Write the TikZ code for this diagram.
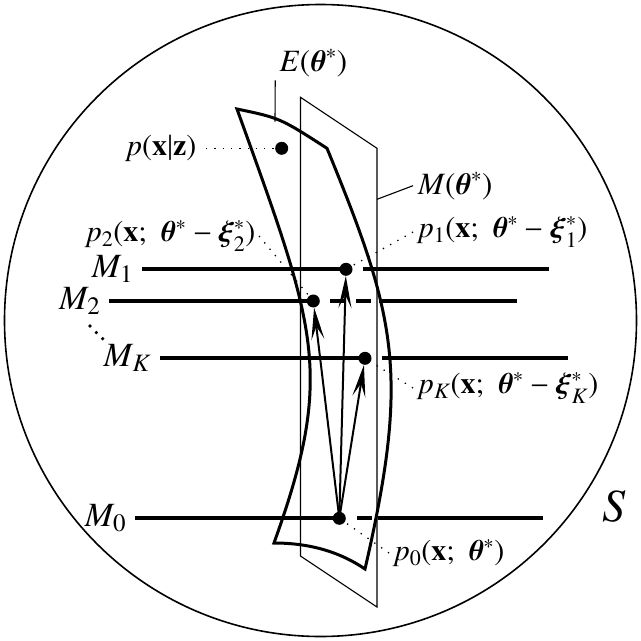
\documentclass[tikz,border=0pt]{standalone}
\usepackage{amsmath}
\usepackage{txfonts}
\usetikzlibrary{arrows.meta}
\DeclareMathSizes{30}{30}{22}{16}
\DeclareMathSizes{31}{31}{23}{17}
\DeclareMathSizes{34}{34}{25}{18}
\tikzset{mline/.style={line width=3.7pt}, sheet/.style={line width=1.1pt}, surf/.style={line width=3pt, line join=miter}, blob/.style={circle, fill, inner sep=0pt, minimum size=13pt}, lead/.style={line width=1.3pt, dash pattern=on 1.3pt off 7pt}, lab/.style={font=\fontsize{30}{34}\selectfont}, slab/.style={font=\fontsize{31}{35}\selectfont}, mlab/.style={font=\fontsize{34}{38}\selectfont, inner sep=7pt}, vec/.style={line width=2pt, -{Stealth[length=32pt,width=13pt,inset=13pt]}}}

\begin{document}
\begin{tikzpicture}[x=1pt,y=-1pt]
\useasboundingbox (0,0) rectangle (641,641);
\draw[line width=1.6pt] (320.5,320.5) circle (316pt);
\node[font=\fontsize{46}{50}\selectfont] (lS) at (618,507) {$S$};
% tangent plane and curved sheet
\draw[sheet] (300.5,97.3) -- (377,148.3) -- (377,607) -- (300.5,556) -- cycle;
\draw[surf] (237,109) .. controls (280,118) .. (327,148.3) .. controls (396.7,318) and (409.9,374) .. (365,569) .. controls (340,552) and (310,543) .. (274,543) .. controls (335.2,373) and (316.2,329) .. cycle;
\coordinate (eTop) at (275,121.7); \coordinate (mEdge) at (377,199.3);
% submodels
\draw[mline] (142,269.3) node[left,mlab] (lM1) {$M_1$} -- (352,269.3) (363,269.3) -- (549,269.3);
\draw[mline] (109.3,301) node[left,mlab] (lM2) {$M_2$} -- (319,301) (330,301) -- (345,301) (356,301) -- (371,301) (379,301) -- (517,301);
\draw[mline] (160,358.3) node[left,mlab] (lMK) {$M_K$} -- (371,358.3) (382,358.3) -- (568,358.3);
\draw[mline] (135,518.3) node[left,mlab] (lM0) {$M_0$} -- (345,518.3) (357,518.3) -- (372,518.3) (378,518.3) -- (543,518.3);
\foreach \p in {(90,326),(96.3,332.5),(102.7,338.7)} \fill \p circle (1.8pt);
% points
\node[blob] (pz) at (281.7,148.3) {}; \node[blob] (d1) at (346,269.3) {}; \node[blob] (d2) at (313.3,301) {};
\node[blob] (dK) at (365,358.3) {}; \node[blob] (d0) at (339.3,518.3) {};
% labels
\node[slab] (lE) at (313,63) {$E(\boldsymbol{\theta}^*)$};
\node[slab, anchor=west] (lMt) at (413,185.7) {$M(\boldsymbol{\theta}^*)$};
\node[lab, anchor=east] (lpz) at (200,148.3) {$p(\mathbf{x}|\mathbf{z})$};
\node[lab, anchor=east] (lp2) at (259,236) {$p_2(\mathbf{x};\ \boldsymbol{\theta}^*-\boldsymbol{\xi}_2^*)$};
\node[lab, anchor=west] (lp1) at (413,232) {$p_1(\mathbf{x};\ \boldsymbol{\theta}^*-\boldsymbol{\xi}_1^*)$};
\node[lab, anchor=west] (lpK) at (413,388) {$p_K(\mathbf{x};\ \boldsymbol{\theta}^*-\boldsymbol{\xi}_K^*)$};
\node[lab, anchor=west] (lp0) at (389,553) {$p_0(\mathbf{x};\ \boldsymbol{\theta}^*)$};
\draw[sheet] (lE.south west) -- (eTop); \draw[sheet] (mEdge) -- (lMt.west);
\draw[lead, shorten <=6pt] (lpz.east) -- (pz); \draw[lead] (lp2.east) -- (d2); \draw[lead] (lp1.west) -- (d1);
\draw[lead] (lpK.west) -- (dK); \draw[lead] (lp0.west) -- (d0);
% shifts
\draw[vec] (d0.center) -- (d1); \draw[vec] (d0.center) -- (d2); \draw[vec] (d0.center) -- (dK);
\end{tikzpicture}
\end{document}
